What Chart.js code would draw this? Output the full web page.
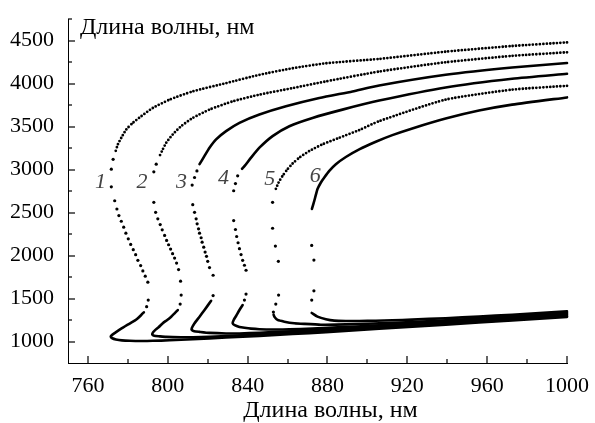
<!DOCTYPE html>
<html lang="ru">
<head>
<meta charset="UTF-8">
<title>Длина волны</title>
<script src="https://cdn.jsdelivr.net/npm/chart.js"></script>
<style>
    body { margin: 0; background: #fff; }
    #wrap { width: 595px; height: 423px; }
</style>
</head>
<body>
<div id="wrap"><canvas id="chart" width="595" height="423"></canvas></div>
<script>
// axis ticks
const xTicks = [760, 800, 840, 880, 920, 960, 1000];
const xMinor = [780, 820, 860, 900, 940, 980];
const yTicks = [1000, 1500, 2000, 2500, 3000, 3500, 4000, 4500];
const yMinor = [1250, 1750, 2250, 2750, 3250, 3750, 4250, 4750];
const axisTitle = 'Длина волны, нм';

// curve numbers and where they sit
const curveNames = ['1', '2', '3', '4', '5', '6'];
const labelX = [766.3, 787.1, 806.9, 827.9, 851.1, 873.9];
const labelY = [2855, 2858, 2858, 2904, 2893, 2927];

// each curve: upper branch, sparse dots in the S bend, lower branch  [x, y]
const c1Upper = [[1000,4480],[972.5,4438],[939.2,4372],[905.9,4288],[879.2,4237],[862.5,4179],[845.9,4103],[829.2,4006],[812.5,3910],[800.9,3814],[792.5,3717],[786.7,3621],[782.5,3544],[779.2,3467],[776.7,3370],[775.0,3294],[773.8,3210]];
const c1Mid = [[772.6,3120],[771.7,3005],[771.7,2800],[773.4,2638],[774.5,2542],[775.5,2465],[776.7,2399],[777.9,2330],[779.0,2260],[780.2,2195],[781.4,2130],[782.7,2068],[783.9,2010],[785.0,1945],[786.4,1883],[787.5,1821],[788.7,1760],[790.0,1690],[790.2,1482],[789.4,1405]];
const c1Lower = [[788.0,1340],[786.7,1309],[785.0,1271],[783.4,1243],[781.7,1220],[779.7,1193],[777.5,1162],[775.5,1132],[773.7,1104],[772.0,1077],[771.4,1058],[772.2,1038],[774.0,1024],[777.0,1013],[781.0,1008],[786.7,1006],[792.5,1008],[800.9,1014],[812.5,1026],[829.2,1046],[845.9,1066],[862.5,1087],[879.2,1109],[905.9,1148],[939.2,1196],[972.5,1245],[1000,1287]];

const c2Upper = [[1000,4365],[972.5,4323],[939.2,4249],[905.9,4141],[879.2,4026],[862.5,3948],[845.9,3872],[832.5,3794],[820.9,3698],[812.5,3601],[806.7,3505],[802.5,3409],[799.2,3312],[797.5,3236],[795.9,3159]];
const c2Mid = [[794.2,3063],[793.0,2974],[793.0,2619],[793.9,2503],[795.0,2427],[796.2,2361],[797.2,2300],[798.4,2234],[799.4,2176],[800.4,2126],[801.4,2075],[802.4,2022],[803.4,1971],[804.4,1913],[805.4,1837],[806.4,1702],[806.7,1540],[806.2,1436]];
const c2Lower = [[805.0,1366],[803.4,1328],[801.7,1289],[799.7,1251],[797.5,1213],[795.4,1166],[793.4,1127],[792.5,1104],[792.2,1082],[793.2,1066],[795.9,1060],[799.2,1054],[806.7,1050],[812.5,1050],[820.9,1055],[832.5,1067],[845.9,1082],[862.5,1104],[879.2,1125],[905.9,1160],[939.2,1206],[972.5,1255],[1000,1297]];

const c3Upper = [[1000,4240],[972.5,4188],[939.2,4103],[905.9,3979],[892.5,3910],[875.9,3833],[859.2,3737],[845.9,3641],[835.9,3544],[829.2,3448],[824.2,3352],[820.9,3255],[818.4,3159],[815.9,3063]];
const c3Mid = [[814.6,2985],[813.4,2908],[812.2,2820],[812.5,2592],[813.4,2503],[814.2,2427],[814.7,2369],[815.4,2311],[815.9,2260],[816.7,2207],[817.2,2156],[818.0,2098],[818.7,2041],[819.4,1991],[820.0,1933],[820.9,1860],[822.7,1771],[822.7,1534]];
const c3Lower = [[821.7,1474],[818.4,1367],[815.9,1289],[813.4,1213],[812.0,1155],[812.0,1135],[813.2,1120],[815.9,1112],[820.9,1100],[829.2,1093],[835.9,1094],[845.9,1102],[859.2,1116],[875.9,1135],[892.5,1157],[905.9,1173],[939.2,1218],[972.5,1267],[1000,1309]];

const c4Upper = [[1000,4115],[972.5,4057],[939.2,3956],[905.9,3803],[887.5,3698],[872.5,3601],[860.9,3505],[852.5,3390],[845.9,3255],[841.7,3139],[838.4,3040],[837.2,3010]];
const c4Mid = [[835.0,2928],[833.9,2838],[833.0,2754],[833.0,2407],[833.9,2303],[834.5,2222],[835.2,2149],[835.9,2080],[836.7,2011],[837.5,1945],[838.4,1887],[839.2,1829],[839.2,1552],[838.4,1482]];
const c4Lower = [[837.5,1424],[835.9,1367],[834.2,1297],[833.0,1251],[832.5,1213],[833.5,1190],[835.9,1170],[838.4,1160],[841.7,1150],[845.9,1143],[852.5,1139],[860.9,1141],[872.5,1152],[887.5,1168],[905.9,1189],[939.2,1232],[972.5,1279],[1000,1321]];

const c5Upper = [[1000,3975],[972.5,3930],[939.2,3814],[905.9,3564],[895.9,3460],[885.9,3370],[877.5,3294],[870.9,3216],[865.9,3139],[862.5,3070],[860.0,3005],[857.5,2927],[855.5,2850],[853.9,2762]];
const c5Mid = [[852.5,2619],[852.5,2318],[853.9,2110],[855.4,1933],[855.5,1540],[854.1,1436],[852.9,1343]];
const c5Lower = [[853.0,1312],[853.4,1289],[855.0,1251],[858.4,1231],[863.4,1213],[868.4,1205],[876.7,1195],[884.2,1196],[894.2,1203],[905.9,1211],[939.2,1246],[972.5,1292],[1000,1336]];

const c6Upper = [[1000,3840],[972.5,3756],[955.9,3687],[939.2,3594],[922.5,3479],[912.5,3401],[904.2,3324],[895.9,3236],[889.2,3147],[884.2,3063],[880.9,2985],[878.4,2908],[876.7,2850],[875.0,2774],[874.2,2708],[873.4,2638],[872.2,2542]];
const c6Mid = [[872.1,2118],[873.2,1948],[873.2,1590],[872.1,1482]];
const c6Lower = [[872.1,1332],[875.0,1289],[879.2,1259],[883.4,1243],[889.2,1239],[895.9,1239],[904.2,1242],[912.5,1247],[922.5,1255],[939.2,1271],[955.9,1290],[972.5,1312],[1000,1352]];

const pts = arr => arr.map(([x, y]) => ({ x, y }));

// dense parts are drawn as a stroke, dotted ones with round zero-length dashes
function branch(arr, dotted) {
    return {
        data: pts(arr),
        showLine: true,
        borderColor: '#000',
        borderWidth: dotted ? 2.8 : 2.6,
        borderDash: dotted ? [0, 3.4] : [],
        borderCapStyle: 'round',
        borderJoinStyle: 'round',
        pointRadius: 0,
        tension: 0.2,
        clip: false
    };
}
function dots(arr) {
    return {
        data: pts(arr),
        showLine: false,
        pointRadius: 1.6,
        pointBackgroundColor: '#000',
        pointBorderWidth: 0,
        clip: false
    };
}

const datasets = [
    branch(c1Upper, true), dots(c1Mid), branch(c1Lower, false),
    branch(c2Upper, true), dots(c2Mid), branch(c2Lower, false),
    branch(c3Upper, false), dots(c3Mid), branch(c3Lower, false),
    branch(c4Upper, false), dots(c4Mid), branch(c4Lower, false),
    branch(c5Upper, true), dots(c5Mid), branch(c5Lower, false),
    branch(c6Upper, false), dots(c6Mid), branch(c6Lower, false)
];

const serif = '"Liberation Serif", "DejaVu Serif", serif';

// inward tick marks, axis titles and curve numbers
const decor = {
    id: 'decor',
    afterDraw(chart) {
        const { ctx, chartArea: a } = chart;
        const x = chart.scales.x, y = chart.scales.y;
        ctx.save();
        ctx.fillStyle = '#000';
        const xt = (v, len) => {
            const p = Math.round(x.getPixelForValue(v));
            ctx.fillRect(p - 0.6, a.bottom - len, 1.2, len);
        };
        const yt = (v, len) => {
            const p = Math.round(y.getPixelForValue(v));
            ctx.fillRect(a.left, p - 0.6, len, 1.2);
        };
        xTicks.forEach(v => xt(v, 7));
        xMinor.forEach(v => xt(v, 4));
        yTicks.forEach(v => yt(v, 7));
        yMinor.forEach(v => yt(v, 4));

        ctx.font = '24px ' + serif;
        ctx.textBaseline = 'alphabetic';
        ctx.textAlign = 'left';
        ctx.fillText(axisTitle, a.left + 12, a.top + 14.5);
        ctx.textAlign = 'center';
        ctx.fillText(axisTitle, (a.left + a.right) / 2 + 13, 416.5);

        ctx.fillStyle = '#444';
        ctx.font = 'italic 22px ' + serif;
        ctx.textBaseline = 'middle';
        curveNames.forEach((t, i) => {
            ctx.fillText(t, x.getPixelForValue(labelX[i]), y.getPixelForValue(labelY[i]));
        });
        ctx.restore();
    }
};

const tickFont = { family: serif, size: 22 };

new Chart(document.getElementById('chart'), {
    type: 'scatter',
    data: { datasets },
    options: {
        responsive: false,
        animation: false,
        layout: { padding: { top: 17, right: 28, left: 0, bottom: 0 } },
        plugins: { legend: { display: false }, tooltip: { enabled: false } },
        scales: {
            x: {
                type: 'linear',
                min: 750,
                max: 1000,
                afterBuildTicks: s => { s.ticks = xTicks.map(v => ({ value: v })); },
                afterFit: s => { s.height = 60; },
                grid: { display: false },
                border: { display: true, color: '#000', width: 1 },
                ticks: { font: tickFont, color: '#000', padding: 2, maxRotation: 0, callback: v => String(v) }
            },
            y: {
                type: 'linear',
                min: 750,
                max: 4750,
                afterBuildTicks: s => { s.ticks = yTicks.map(v => ({ value: v })); },
                afterFit: s => { s.width = 68; },
                grid: { display: false },
                border: { display: true, color: '#000', width: 1 },
                ticks: { font: tickFont, color: '#000', padding: 6, callback: v => String(v) }
            }
        }
    },
    plugins: [decor]
});
</script>
</body>
</html>
